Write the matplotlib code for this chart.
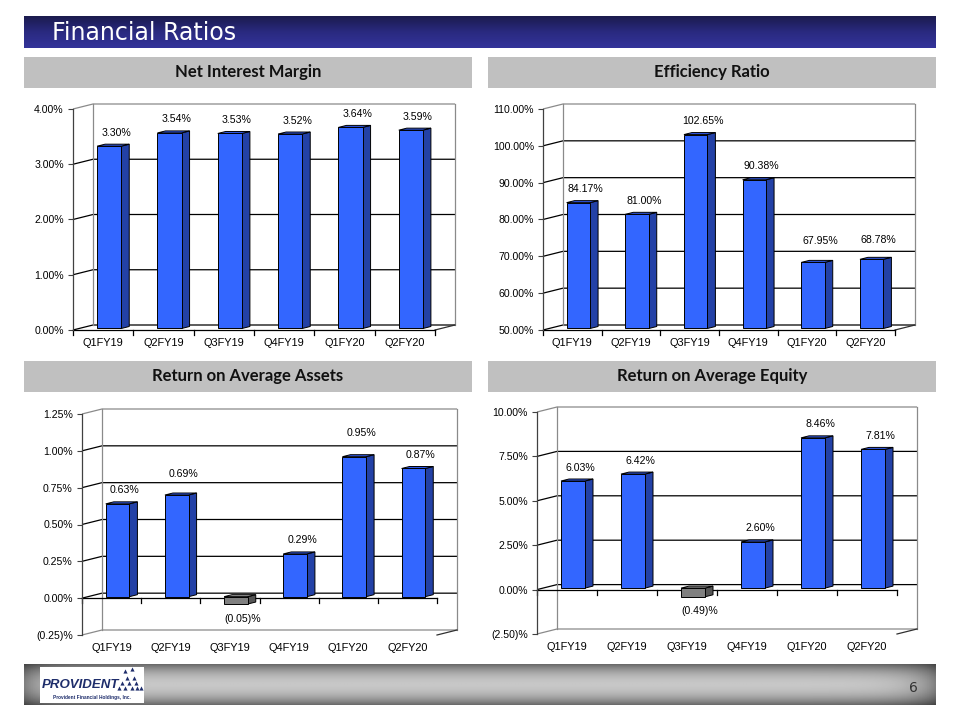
import numpy as np
import matplotlib
matplotlib.use("Agg")
import matplotlib.pyplot as plt
from matplotlib.patches import Polygon, Rectangle
from matplotlib.colors import LinearSegmentedColormap

# ---------------- data ----------------
categories = ["Q1FY19", "Q2FY19", "Q3FY19", "Q4FY19", "Q1FY20", "Q2FY20"]

nim_values = [3.30, 3.54, 3.53, 3.52, 3.64, 3.59]
eff_values = [84.17, 81.00, 102.65, 90.38, 67.95, 68.78]
roa_values = [0.63, 0.69, -0.05, 0.29, 0.95, 0.87]
roe_values = [6.03, 6.42, -0.49, 2.60, 8.46, 7.81]

nim_ticks = [0.0, 1.0, 2.0, 3.0, 4.0]
eff_ticks = [50.0, 60.0, 70.0, 80.0, 90.0, 100.0, 110.0]
roa_ticks = [-0.25, 0.0, 0.25, 0.50, 0.75, 1.00, 1.25]
roe_ticks = [-2.5, 0.0, 2.5, 5.0, 7.5, 10.0]

# extra vertical lift of some data labels (pixels), as placed in the original
nim_lift = [0, 0, 0, 0, 0, 0]
eff_lift = [0, 0, 0, 0, 8, 6]
roa_lift = [0, 8, 0, 0, 10, 0]
roe_lift = [0, 0, 0, 0, 0, 0]

titles = ["Net Interest Margin", "Efficiency Ratio",
          "Return on Average Assets", "Return on Average Equity"]
page_title = "Financial Ratios"

# ---------------- figure ----------------
W, H = 960, 720
fig = plt.figure(figsize=(W / 100, H / 100), dpi=100)
fig.patch.set_facecolor("white")

NUMFONT = ["Liberation Sans", "DejaVu Sans"]


def fr(x0, y0, x1, y1):
    """pixel box (top-left origin) -> figure fraction rect"""
    return [x0 / W, 1 - y1 / H, (x1 - x0) / W, (y1 - y0) / H]


def pct(v):
    if v < 0:
        return "({:.2f})%".format(abs(v))
    return "{:.2f}%".format(v)


# header bar with vertical gradient
axh = fig.add_axes(fr(24, 16, 936, 48))
cmap_h = LinearSegmentedColormap.from_list("h", ["#1b1b4e", "#2a2a80", "#33339a"])
grad = np.linspace(0, 1, 64).reshape(-1, 1)
axh.imshow(grad, cmap=cmap_h, aspect="auto", extent=[0, 1, 1, 0])
axh.set_xlim(0, 1); axh.set_ylim(1, 0)
axh.axis("off")
axh.text((52 - 24) / 912, 0.52, page_title, color="white", fontsize=17,
         family=["DejaVu Sans"], va="center", ha="left")

# section bands
bands = [(24, 57, 472, 88), (488, 57, 936, 88), (24, 361, 472, 392), (488, 361, 936, 392)]
for (x0, y0, x1, y1), t in zip(bands, titles):
    fig.patches.append(Rectangle((x0 / W, 1 - y1 / H), (x1 - x0) / W, (y1 - y0) / H,
                                 transform=fig.transFigure, facecolor="#c0c0c0",
                                 edgecolor="none", zorder=0))
    fig.text((x0 + x1) / 2 / W, 1 - (y0 + y1) / 2 / H, t, ha="center", va="center",
             fontsize=12, fontweight="bold", family=["Lato", "DejaVu Sans"], color="#111111")

DX, DY = 20.0, 5.0  # depth in pixels
F1, F2 = 0.3, 0.7   # bar depth range
BW = 0.4            # bar width in category units

BLUE_F, BLUE_S, BLUE_T = "#3366ff", "#2341a6", "#2f58e6"
GRAY_F, GRAY_S, GRAY_T = "#808080", "#555555", "#9a9a9a"


def chart(box, values, ticks, lift):
    x0, y0, x1, y1 = box
    ymin, ymax = ticks[0], ticks[-1]
    ax = fig.add_axes(fr(x0, y0, x1, y1))
    ax.set_xlim(0, 6)
    ax.set_ylim(ymin, ymax)
    ax.patch.set_visible(False)
    wpx, hpx = x1 - x0, y1 - y0
    dxd = DX * 6 / wpx
    dyd = DY * (ymax - ymin) / hpx
    ppx = (ymax - ymin) / hpx  # data per pixel (y)
    base = max(ymin, 0.0)

    for s in ["top", "right", "bottom"]:
        ax.spines[s].set_visible(False)
    ax.spines["left"].set_color("#404040")
    ax.spines["left"].set_linewidth(0.9)

    ax.set_yticks(ticks)
    ax.set_yticklabels([pct(t) for t in ticks], family=NUMFONT, fontsize=7.6)
    ax.tick_params(axis="y", direction="out", length=3.6, width=0.8, pad=3,
                   color="#404040")
    cpos = [i + 0.5 for i in range(len(categories))]
    ax.set_xticks(cpos)
    ax.set_xticklabels(categories, family=NUMFONT, fontsize=7.9)
    ax.tick_params(axis="x", length=0, pad=5.5)

    gray = "#8a8a8a"
    # gridlines on side + back wall
    for t in ticks:
        if t == ymax:
            col = gray
        elif t == ymin and ymin < 0:
            col = gray
        else:
            col = "black"
        ax.plot([0, dxd, 6 + dxd], [t, t + dyd, t + dyd], color=col, lw=0.9,
                clip_on=False, zorder=1, solid_capstyle="butt")
    # wall edges
    ax.plot([dxd, dxd], [ymin + dyd, ymax + dyd], color=gray, lw=0.9, clip_on=False, zorder=1)
    ax.plot([6 + dxd, 6 + dxd], [ymin + dyd, ymax + dyd], color=gray, lw=0.9, clip_on=False, zorder=1)
    ax.plot([6, 6 + dxd], [ymin, ymin + dyd], color="#303030", lw=0.9, clip_on=False, zorder=1)
    # category axis line at base with ticks at boundaries
    ax.plot([0, 6], [base, base], color="black", lw=0.9, clip_on=False, zorder=2)
    for i in range(len(categories) + 1):
        ax.plot([i, i], [base, base - 5 * ppx], color="black", lw=0.9,
                clip_on=False, zorder=2)

    # bars
    for c, v, lf in zip(cpos, values, lift):
        if v >= 0:
            cf, cs, ct = BLUE_F, BLUE_S, BLUE_T
        else:
            cf, cs, ct = GRAY_F, GRAY_S, GRAY_T
        lo, hi = min(base, v), max(base, v)
        xl, xr = c - BW / 2, c + BW / 2
        front = [(xl + F1 * dxd, lo + F1 * dyd), (xr + F1 * dxd, lo + F1 * dyd),
                 (xr + F1 * dxd, hi + F1 * dyd), (xl + F1 * dxd, hi + F1 * dyd)]
        side = [(xr + F1 * dxd, lo + F1 * dyd), (xr + F2 * dxd, lo + F2 * dyd),
                (xr + F2 * dxd, hi + F2 * dyd), (xr + F1 * dxd, hi + F1 * dyd)]
        top = [(xl + F1 * dxd, hi + F1 * dyd), (xr + F1 * dxd, hi + F1 * dyd),
               (xr + F2 * dxd, hi + F2 * dyd), (xl + F2 * dxd, hi + F2 * dyd)]
        for pts, col in [(side, cs), (top, ct), (front, cf)]:
            ax.add_patch(Polygon(pts, closed=True, facecolor=col, edgecolor="black",
                                 lw=0.7, zorder=4, clip_on=False, joinstyle="miter"))
        off = (13, 15 + lf) if v >= 0 else (13, -13)
        ax.annotate(pct(v), xy=(c, v), xytext=off, textcoords="offset pixels",
                    ha="center", va="center", fontsize=7.6, family=NUMFONT,
                    color="black", zorder=6, annotation_clip=False)
    return ax


chart((73, 109, 435, 330), nim_values, nim_ticks, nim_lift)
chart((543, 109, 895, 330), eff_values, eff_ticks, eff_lift)
chart((82, 414, 437, 635), roa_values, roa_ticks, roa_lift)
chart((537, 412, 897, 634), roe_values, roe_ticks, roe_lift)

# footer bar with gradient
axf = fig.add_axes(fr(24, 664, 936, 705))
ny, nx = 48, 400
yy = np.linspace(-1, 1, ny).reshape(-1, 1)
xx = np.linspace(0, 1, nx).reshape(1, -1)
vprof = 0.42 + 0.36 * (1 - yy ** 2)
hprof = 1 - 0.35 * np.exp(-xx / 0.025) - 0.35 * np.exp(-(1 - xx) / 0.025)
img = np.clip(vprof * hprof, 0, 1)
axf.imshow(img, cmap="gray", vmin=0, vmax=1, aspect="auto", extent=[0, 1, 1, 0])
axf.set_xlim(0, 1); axf.set_ylim(1, 0)
axf.axis("off")

# logo
axl = fig.add_axes(fr(40, 667, 144, 703))
axl.set_xlim(0, 1); axl.set_ylim(0, 1)
axl.set_facecolor("white")
axl.set_xticks([]); axl.set_yticks([])
for s in axl.spines.values():
    s.set_visible(False)
axl.text(0.02, 0.50, "PROVIDENT", fontsize=9.5, fontweight="bold", fontstyle="italic",
         family=NUMFONT, color="#1e2d6b", va="center", ha="left")
axl.text(0.5, 0.14, "Provident Financial Holdings, Inc.", fontsize=3.4, fontweight="bold",
         family=NUMFONT, color="#1e2d6b", va="center", ha="center")
tri_x = [0.76, 0.82, 0.88, 0.93, 0.79, 0.86, 0.92, 0.97, 0.84, 0.90, 0.82, 0.88]
tri_y = [0.42, 0.42, 0.42, 0.42, 0.56, 0.56, 0.56, 0.42, 0.70, 0.70, 0.88, 0.95]
axl.scatter(tri_x, tri_y, marker="^", s=9, color="#1e2d6b", linewidths=0)

fig.text(913 / W, 1 - 688 / H, "6", fontsize=10, color="#333333", ha="center", va="center",
         family=["DejaVu Sans"])

fig.savefig("out.png", dpi=100, facecolor="white")
